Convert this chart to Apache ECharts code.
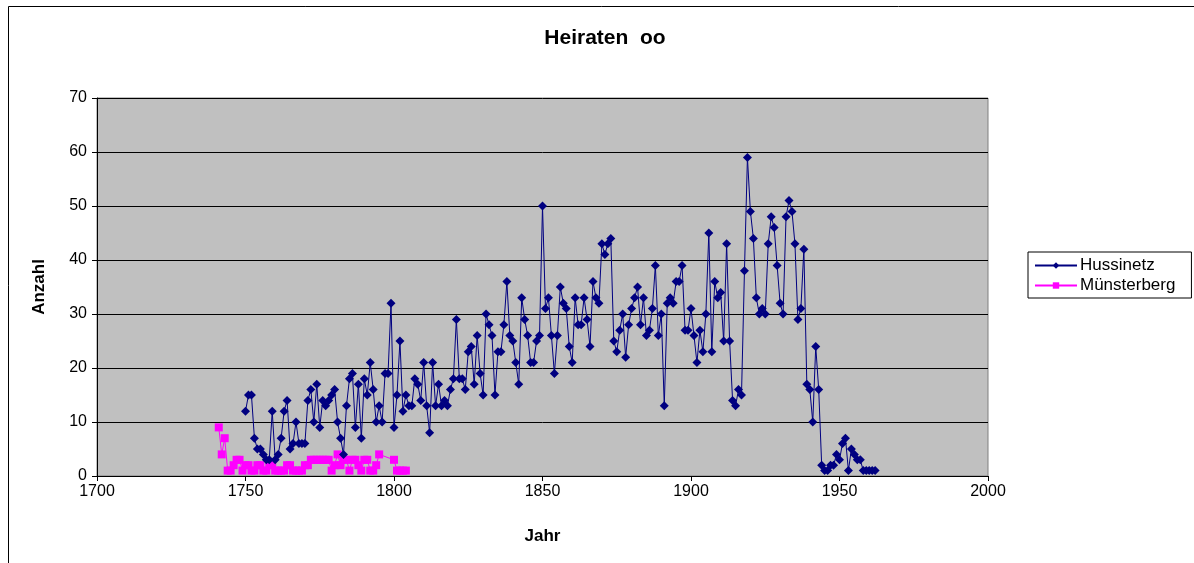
<!DOCTYPE html>
<html>
<head>
<meta charset="utf-8">
<script src="https://cdn.jsdelivr.net/npm/echarts@6/dist/echarts.min.js"></script>
<style>
html,body{margin:0;padding:0;background:#fff;}
#c{width:1194px;height:563px;}
</style>
</head>
<body>
<div id="c"></div>
<script>
const title = 'Heiraten  oo';
const xName = 'Jahr';
const yName = 'Anzahl';
const seriesNames = ['Hussinetz', 'Münsterberg'];

const hussYears = [];
for (let y = 1750; y <= 1962; y++) hussYears.push(y);
const hussValues = [
  12,15,15,7,5,5,4,3,3,12, // 1750-1759
  3,4,7,12,14,5,6,10,6,6,  // 1760-1769
  6,14,16,10,17,9,14,13,14,15, // 1770-1779
  16,10,7,4,13,18,19,9,17,7, // 1780-1789
  18,15,21,16,10,13,10,19,19,32, // 1790-1799
  9,15,25,12,15,13,13,18,17,14, // 1800-1809
  21,13,8,21,13,17,13,14,13,16, // 1810-1819
  18,29,18,18,16,23,24,17,26,19, // 1820-1829
  15,30,28,26,15,23,23,28,36,26, // 1830-1839
  25,21,17,33,29,26,21,21,25,26, // 1840-1849
  50,31,33,26,19,26,35,32,31,24, // 1850-1859
  21,33,28,28,33,29,24,36,33,32, // 1860-1869
  43,41,43,44,25,23,27,30,22,28, // 1870-1879
  31,33,35,28,33,26,27,31,39,26, // 1880-1889
  30,13,32,33,32,36,36,39,27,27, // 1890-1899
  31,26,21,27,23,30,45,23,36,33, // 1900-1909
  34,25,43,25,14,13,16,15,38,59, // 1910-1919
  49,44,33,30,31,30,43,48,46,39, // 1920-1929
  32,30,48,51,49,43,29,31,42,17, // 1930-1939
  16,10,24,16,2,1,1,2,2,4, // 1940-1949
  3,6,7,1,5,4,3,3,1,1, // 1950-1959
  1,1,1 // 1960-1962
];

const muenYears = [1741,1742,1743,1744,1745,1746,1747,1748,1749,1750,1751,1752,1753,1754,1755,1756,1757,1758,1759,1760,1761,1762,1763,1764,1765,1766,1767,1768,1769,1770,1771,1772,1773,1774,1775,1776,1777,1778,1779,1780,1781,1782,1783,1784,1785,1786,1787,1788,1789,1790,1791,1792,1793,1794,1795,1800,1801,1802,1803,1804];
const muenValues = [9,4,7,1,1,2,3,3,1,2,2,1,1,2,2,1,1,2,2,1,1,1,1,2,2,1,1,1,1,2,2,3,3,3,3,3,3,3,1,2,4,2,3,3,1,3,3,2,1,3,3,1,1,2,4,3,1,1,1,1];

const xTicks = [1700, 1750, 1800, 1850, 1900, 1950, 2000];
const yTicks = [0, 10, 20, 30, 40, 50, 60, 70];

const chart = echarts.init(document.getElementById('c'), null, {renderer: 'canvas'});
const font = 'Liberation Sans, Arial, sans-serif';

chart.setOption({
  animation: false,
  backgroundColor: '#ffffff',
  title: {
    text: title, left: 600, top: 23, textAlign: 'center',
    textStyle: {fontFamily: font, fontSize: 21, fontWeight: 'bold', color: '#000'}
  },
  graphic: [
    {type: 'rect', shape: {x: 8.5, y: 6.5, width: 1200, height: 600}, style: {fill: 'none', stroke: '#000', lineWidth: 1}, silent: true, z: -1}
  ],
  legend: {
    orient: 'vertical',
    left: 1028, top: 252,
    padding: [5, 16, 4, 6],
    borderColor: '#000', borderWidth: 1,
    backgroundColor: '#fff',
    itemWidth: 42, itemHeight: 8, itemGap: 3,
    textStyle: {fontFamily: font, fontSize: 17, color: '#000', padding: [0, 0, 0, -2]},
    data: seriesNames
  },
  grid: {left: 97, top: 98, width: 891, height: 378, show: true, backgroundColor: '#C0C0C0', borderColor: '#808080', borderWidth: 1},
  xAxis: {
    type: 'value', min: xTicks[0], max: xTicks[xTicks.length - 1], interval: 50,
    name: xName, nameLocation: 'middle', nameGap: 52,
    nameTextStyle: {fontFamily: font, fontSize: 17, fontWeight: 'bold', color: '#000'},
    axisLine: {show: true, onZero: false, lineStyle: {color: '#000', width: 1}},
    axisTick: {show: true, inside: false, length: 5, lineStyle: {color: '#000'}},
    axisLabel: {fontFamily: font, fontSize: 16, color: '#000', margin: 8, formatter: v => String(v)},
    splitLine: {show: false}
  },
  yAxis: {
    type: 'value', min: yTicks[0], max: yTicks[yTicks.length - 1], interval: 10,
    name: yName, nameLocation: 'middle', nameGap: 49, nameRotate: 90,
    nameTextStyle: {fontFamily: font, fontSize: 17, fontWeight: 'bold', color: '#000'},
    axisLine: {show: true, lineStyle: {color: '#000', width: 1}},
    axisTick: {show: true, inside: false, length: 5, lineStyle: {color: '#000'}},
    axisLabel: {fontFamily: font, fontSize: 16, color: '#000', margin: 10},
    splitLine: {show: true, lineStyle: {color: '#000', width: 1}}
  },
  series: [
    {
      name: seriesNames[0], type: 'line',
      data: hussYears.map((y, i) => [y, hussValues[i]]),
      symbol: 'diamond', symbolSize: 9,
      itemStyle: {color: '#000080'},
      lineStyle: {color: '#000080', width: 1},
      z: 3
    },
    {
      name: seriesNames[1], type: 'line',
      data: muenYears.map((y, i) => [y, muenValues[i]]),
      symbol: 'rect', symbolSize: 8,
      itemStyle: {color: '#FF00FF'},
      lineStyle: {color: '#FF00FF', width: 1},
      z: 2
    }
  ]
});
</script>
</body>
</html>
